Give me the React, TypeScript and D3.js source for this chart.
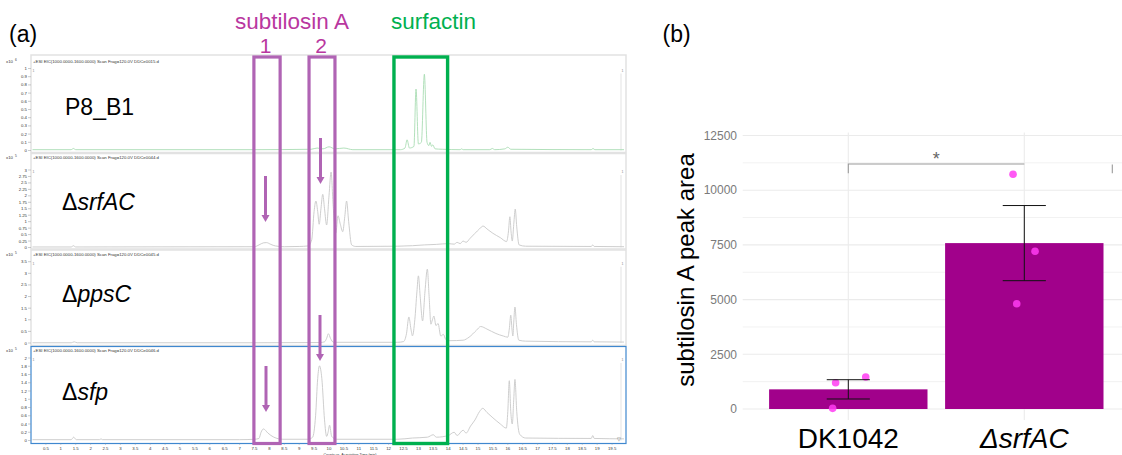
import React from "react";
import * as d3 from "d3";

const W = 1122;
const H = 455;
const FONT = "'Liberation Sans', Arial, Helvetica, sans-serif";

// ---------- panel (a): LC-MS chromatograms ----------
const sampleLabels = ["P8_B1", "srfAC", "ppsC", "sfp"];
const fileNames = ["DDCe0015.d", "DDCe0044.d", "DDCe0045.d", "DDCe0046.d"];
const exponents = ["6", "5", "5", "5"];
const yTicks1 = [0, 0.1, 0.2, 0.3, 0.4, 0.5, 0.6, 0.7, 0.8, 0.9, 1];
const yTicks2 = [0, 0.25, 0.5, 0.75, 1, 1.25, 1.5, 1.75, 2, 2.25, 2.5, 2.75, 3];
const yTicks3 = [0, 0.5, 1, 1.5, 2, 2.5, 3, 3.5];
const yTicks4 = [0, 0.2, 0.4, 0.6, 0.8, 1, 1.2, 1.4, 1.6, 1.8, 2];
const timeTicks = [
  0.5, 1, 1.5, 2, 2.5, 3, 3.5, 4, 4.5, 5, 5.5, 6, 6.5, 7, 7.5, 8, 8.5, 9, 9.5, 10,
  10.5, 11, 11.5, 12, 12.5, 13, 13.5, 14, 14.5, 15, 15.5, 16, 16.5, 17, 17.5, 18,
  18.5, 19, 19.5,
];

// [time (min), counts]
const traceP8: [number, number][] = [
  [0.05, 0.01], [1.35, 0.01], [1.42, 0.025], [1.5, 0.01], [7.5, 0.01], [9.4, 0.015],
  [9.6, 0.03], [9.8, 0.02], [10.0, 0.045], [10.2, 0.02], [10.5, 0.03], [10.8, 0.01],
  [12.4, 0.01], [12.55, 0.03], [12.62, 0.13], [12.7, 0.03], [12.85, 0.05], [12.92, 0.75],
  [13.0, 0.08], [13.1, 0.1], [13.2, 0.93], [13.29, 0.1], [13.35, 0.06], [13.39, 0.1],
  [13.44, 0.05], [13.48, 0.07], [13.56, 0.02], [13.8, 0.015], [14.4, 0.01], [14.45, 0.02],
  [14.5, 0.01], [15.4, 0.01], [15.48, 0.025], [15.56, 0.01], [15.9, 0.02], [16.0, 0.04],
  [16.1, 0.015], [18.8, 0.01], [18.86, 0.025], [18.92, 0.01], [19.9, 0.01],
];
const traceSrfAC: [number, number][] = [
  [0.05, 0.02], [1.35, 0.02], [1.42, 0.07], [1.5, 0.02], [7.5, 0.03], [7.65, 0.1],
  [7.8, 0.18], [7.9, 0.19], [8.05, 0.12], [8.2, 0.06], [8.5, 0.03], [9.0, 0.04],
  [9.3, 0.06], [9.42, 0.3], [9.5, 1.4], [9.56, 1.8], [9.62, 1.4], [9.67, 0.9],
  [9.73, 1.5], [9.79, 2.06], [9.85, 1.5], [9.92, 0.87], [10.0, 2.0], [10.07, 2.92],
  [10.14, 1.6], [10.23, 0.56], [10.3, 1.23], [10.38, 0.9], [10.46, 0.61], [10.53, 1.2],
  [10.59, 1.8], [10.66, 1.0], [10.76, 0.1], [10.9, 0.04], [12.3, 0.05], [12.8, 0.07],
  [13.2, 0.1], [13.6, 0.12], [14.0, 0.15], [14.2, 0.13], [14.3, 0.2], [14.4, 0.15],
  [14.5, 0.25], [14.6, 0.2], [14.73, 0.35], [14.9, 0.55], [15.05, 0.72], [15.17, 0.83],
  [15.3, 0.72], [15.5, 0.55], [15.75, 0.38], [15.96, 0.23], [16.02, 0.6], [16.07, 1.19],
  [16.11, 0.6], [16.15, 0.25], [16.2, 0.9], [16.25, 1.49], [16.3, 0.8], [16.38, 0.1],
  [16.6, 0.05], [18.8, 0.04], [18.85, 0.1], [18.9, 0.04], [19.9, 0.03],
];
const tracePpsC: [number, number][] = [
  [0.05, 0.01], [1.35, 0.01], [1.45, 0.05], [1.55, 0.01], [7.5, 0.01], [9.7, 0.02],
  [9.85, 0.05], [9.92, 0.2], [9.98, 0.4], [10.05, 0.2], [10.15, 0.03], [12.3, 0.03],
  [12.5, 0.06], [12.6, 0.4], [12.68, 1.12], [12.75, 0.6], [12.8, 0.31], [12.88, 1.0],
  [12.95, 2.2], [13.0, 2.89], [13.06, 2.0], [13.14, 0.95], [13.22, 2.2], [13.3, 3.18],
  [13.36, 2.0], [13.42, 0.81], [13.47, 1.0], [13.52, 1.16], [13.59, 0.75], [13.66, 0.84],
  [13.75, 0.3], [13.84, 0.37], [13.92, 0.15], [14.05, 0.1], [14.5, 0.12], [14.7, 0.25],
  [14.95, 0.55], [15.09, 0.71], [15.3, 0.6], [15.6, 0.41], [15.85, 0.3], [16.0, 0.25],
  [16.05, 0.6], [16.1, 1.2], [16.14, 0.6], [16.17, 0.3], [16.2, 0.9], [16.24, 1.55],
  [16.29, 0.8], [16.37, 0.12], [16.6, 0.08], [18.8, 0.05], [18.85, 0.12], [18.9, 0.05],
  [19.9, 0.04],
];
const traceSfp: [number, number][] = [
  [0.05, 0.02], [1.35, 0.02], [1.43, 0.08], [1.52, 0.02], [2.3, 0.02], [2.35, 0.04],
  [2.4, 0.02], [7.0, 0.02], [7.5, 0.03], [7.65, 0.05], [7.72, 0.2], [7.8, 0.28],
  [7.95, 0.18], [8.15, 0.08], [8.45, 0.03], [9.3, 0.03], [9.45, 0.08], [9.55, 0.6],
  [9.62, 1.5], [9.68, 1.81], [9.76, 1.5], [9.85, 0.5], [9.92, 0.1], [9.97, 0.2],
  [10.02, 0.37], [10.09, 0.1], [10.25, 0.03], [12.3, 0.03], [12.8, 0.06], [13.3, 0.08],
  [13.5, 0.14], [13.6, 0.08], [14.0, 0.12], [14.2, 0.2], [14.3, 0.12], [14.5, 0.25],
  [14.6, 0.18], [14.75, 0.35], [14.9, 0.5], [15.05, 0.7], [15.16, 0.78], [15.3, 0.68],
  [15.5, 0.55], [15.75, 0.4], [15.95, 0.3], [16.0, 0.7], [16.05, 1.45], [16.1, 0.7],
  [16.15, 0.4], [16.2, 1.0], [16.24, 1.48], [16.3, 0.7], [16.4, 0.15], [16.6, 0.06],
  [18.8, 0.05], [18.85, 0.12], [18.9, 0.05], [19.9, 0.04],
];

// highlighted retention windows (min)
const sub1Window = [7.48, 8.36];
const sub2Window = [9.33, 10.2];
const surfactinWindow = [12.18, 13.98];

// ---------- panel (b): bar chart ----------
const strains = ["DK1042", "ΔsrfAC"];
const peakAreaDK = [1202, 1462, 30];
const peakAreaSrf = [7207, 4813, 10726];
const jitterDK = [-0.072, 0.099, -0.089];
const jitterSrf = [0.061, -0.043, -0.064];
const yTicksB = [0, 2500, 5000, 7500, 10000, 12500];
const yMinorB = [1250, 3750, 6250, 8750, 11250];

// panel layout (px)
const panels = [
  { top: 55, bottom: 152.5, y0: 150.5, yTop: 68.5, head: 62.5, ticks: yTicks1, trace: traceP8, color: "#a9dcb3", border: "#e2e2e2", labY: 115 },
  { top: 153.5, bottom: 249, y0: 247.5, yTop: 170, head: 158.5, ticks: yTicks2, trace: traceSrfAC, color: "#c8c8c8", border: "#e2e2e2", labY: 210 },
  { top: 250, bottom: 345.5, y0: 343, yTop: 261.7, head: 256, ticks: yTicks3, trace: tracePpsC, color: "#c8c8c8", border: "#e2e2e2", labY: 302 },
  { top: 346.5, bottom: 443.5, y0: 440.5, yTop: 358, head: 352, ticks: yTicks4, trace: traceSfp, color: "#c8c8c8", border: "#3f88cf", labY: 400 },
];

const PURPLE = "#b064b4";
const PURPLE_TXT = "#b9379f";
const GREEN = "#00b04f";

function Arrow({ x, y1, y2 }: { x: number; y1: number; y2: number }) {
  return (
    <g>
      <line x1={x} x2={x} y1={y1} y2={y2 - 6} stroke={PURPLE} strokeWidth={3} />
      <path d={`M${x - 4},${y2 - 7} L${x + 4},${y2 - 7} L${x},${y2} Z`} fill={PURPLE} />
    </g>
  );
}

function ChromPanel() {
  const xT = d3.scaleLinear().domain([0, 20]).range([31, 627]);
  const boxTop = 57;
  const boxBottom = 443.5;
  return (
    <g fontFamily={FONT}>
      <text x={9} y={41.5} fontSize={23}>(a)</text>
      {panels.map((p, i) => {
        const topTick = p.ticks[p.ticks.length - 1];
        const y = d3.scaleLinear().domain([0, topTick]).range([p.y0, p.yTop]);
        const line = d3
          .line<[number, number]>()
          .x((d) => xT(d[0]))
          .y((d) => y(d[1]))
          .curve(d3.curveMonotoneX);
        return (
          <g key={i}>
            <rect x={31} y={p.top} width={595} height={p.bottom - p.top} fill="none" stroke={p.border} strokeWidth={i === 3 ? 1.2 : 1.5} />
            <text x={6} y={p.head} fontSize={4.3} fill="#333">x10</text>
            <text x={15} y={p.head - 1.8} fontSize={3.2} fill="#333">{exponents[i]}</text>
            <text x={33} y={p.head} fontSize={4.3} fill="#333">
              {`+ESI EIC(1000.0000-1600.0000) Scan Frag=120.0V ${fileNames[i]}`}
            </text>
            <text x={32.5} y={p.yTop + 3} fontSize={3.5} fill="#888">1</text>
            <text x={621.5} y={p.yTop + 3} fontSize={3.5} fill="#888">1</text>
            <line x1={621} x2={621} y1={p.yTop + 5} y2={p.y0} stroke="#dcdcdc" strokeWidth={0.8} />
            {p.ticks.map((t) => (
              <g key={t}>
                <line x1={28} x2={31} y1={y(t)} y2={y(t)} stroke="#999" strokeWidth={0.5} />
                <text x={27} y={y(t) + 1.5} fontSize={4.3} textAnchor="end" fill="#333">{String(t)}</text>
              </g>
            ))}
            <path d={line(p.trace) || ""} fill="none" stroke={p.color} strokeWidth={0.9} />
            {i === 0 ? (
              <text x={65} y={p.labY} fontSize={23}>{sampleLabels[i]}</text>
            ) : (
              <text x={62} y={p.labY} fontSize={23}>
                <tspan>Δ</tspan>
                <tspan fontStyle="italic">{sampleLabels[i]}</tspan>
              </text>
            )}
          </g>
        );
      })}
      <text x={616.5} y={441} fontSize={4.5} fill="#555">▽</text>
      {timeTicks.map((t) => (
        <g key={t}>
          <line x1={xT(t)} x2={xT(t)} y1={443.5} y2={445} stroke="#999" strokeWidth={0.4} />
          <text x={xT(t)} y={450} fontSize={4.3} textAnchor="middle" fill="#333">{String(t)}</text>
        </g>
      ))}
      <text x={350} y={455.5} fontSize={3.6} textAnchor="middle" fill="#333">Counts vs. Acquisition Time (min)</text>

      {/* highlight windows */}
      <rect x={xT(sub1Window[0])} y={boxTop} width={xT(sub1Window[1]) - xT(sub1Window[0])} height={boxBottom - boxTop} fill="none" stroke={PURPLE} strokeWidth={3.2} />
      <rect x={xT(sub2Window[0])} y={boxTop} width={xT(sub2Window[1]) - xT(sub2Window[0])} height={boxBottom - boxTop} fill="none" stroke={PURPLE} strokeWidth={3.2} />
      <rect x={xT(surfactinWindow[0])} y={boxTop} width={xT(surfactinWindow[1]) - xT(surfactinWindow[0])} height={boxBottom - boxTop} fill="none" stroke={GREEN} strokeWidth={3.4} />

      <Arrow x={265.5} y1={176} y2={222} />
      <Arrow x={320.5} y1={138} y2={184} />
      <Arrow x={266} y1={366} y2={412} />
      <Arrow x={320} y1={315} y2={361} />

      <text x={292} y={28.5} fontSize={22.5} textAnchor="middle" fill={PURPLE_TXT}>subtilosin A</text>
      <text x={265.5} y={53} fontSize={21} textAnchor="middle" fill={PURPLE_TXT}>1</text>
      <text x={321} y={53} fontSize={21} textAnchor="middle" fill={PURPLE_TXT}>2</text>
      <text x={391} y={28.5} fontSize={22.5} fill={GREEN}>surfactin</text>
    </g>
  );
}

function BarPanel() {
  const x = d3.scaleLinear().domain([0.4, 2.6]).range([742.7, 1129.9]);
  const y = d3.scaleLinear().domain([0, 12500]).range([409, 135.5]);
  const groups = [
    { vals: peakAreaDK, jit: jitterDK },
    { vals: peakAreaSrf, jit: jitterSrf },
  ];
  const stats = groups.map((g) => {
    const m = d3.mean(g.vals) as number;
    const se = (d3.deviation(g.vals) as number) / Math.sqrt(g.vals.length);
    return { m, se };
  });
  const panelTop = 132.5;
  const panelBottom = 420;
  const barW = 0.9;
  const capW = 0.245;
  return (
    <g fontFamily={FONT}>
      <text x={662.5} y={41.5} fontSize={23}>(b)</text>
      {yMinorB.map((t) => (
        <line key={"m" + t} x1={x(0.4)} x2={W} y1={y(t)} y2={y(t)} stroke="#f2f2f2" strokeWidth={1} />
      ))}
      {yTicksB.map((t) => (
        <line key={t} x1={x(0.4)} x2={W} y1={y(t)} y2={y(t)} stroke="#ebebeb" strokeWidth={1.1} />
      ))}
      {strains.map((s, i) => (
        <line key={s} x1={x(i + 1)} x2={x(i + 1)} y1={panelTop} y2={panelBottom} stroke="#ebebeb" strokeWidth={1.1} />
      ))}
      {yTicksB.map((t) => (
        <text key={"l" + t} x={737} y={y(t) + 4.2} fontSize={12} textAnchor="end" fill="#7a7a7a">{t}</text>
      ))}
      {stats.map((st, i) => (
        <rect key={i} x={x(i + 1 - barW / 2)} y={y(st.m)} width={x(i + 1 + barW / 2) - x(i + 1 - barW / 2)} height={y(0) - y(st.m)} fill="#a1018b" />
      ))}
      {groups.map((g, i) =>
        g.vals.map((v, j) => (
          <circle key={i + "-" + j} cx={x(i + 1 + g.jit[j])} cy={y(v)} r={3.8} fill="#ff3cf2" fillOpacity={0.85} />
        ))
      )}
      {stats.map((st, i) => (
        <g key={"e" + i} stroke="#111" strokeWidth={1}>
          <line x1={x(i + 1)} x2={x(i + 1)} y1={y(st.m + st.se)} y2={y(st.m - st.se)} />
          <line x1={x(i + 1 - capW / 2)} x2={x(i + 1 + capW / 2)} y1={y(st.m + st.se)} y2={y(st.m + st.se)} />
          <line x1={x(i + 1 - capW / 2)} x2={x(i + 1 + capW / 2)} y1={y(st.m - st.se)} y2={y(st.m - st.se)} />
        </g>
      ))}
      {/* significance bracket */}
      <g stroke="#9a9a9a" strokeWidth={1.1} fill="none">
        <path d={`M${x(1)},${y(10780)} L${x(1)},${y(11200)} L${x(2)},${y(11200)}`} />
        <line x1={x(2.5)} x2={x(2.5)} y1={y(11180)} y2={y(10780)} />
      </g>
      <text x={(x(1) + x(2)) / 2} y={165} fontSize={18} textAnchor="middle" fill="#666">*</text>
      <text transform="translate(694,270) rotate(-90)" fontSize={24} textAnchor="middle">subtilosin A peak area</text>
      <text x={x(1)} y={448} fontSize={28} textAnchor="middle">{strains[0]}</text>
      <text x={x(2)} y={448} fontSize={28} textAnchor="middle" fontStyle="italic">{strains[1]}</text>
    </g>
  );
}

export default function App() {
  return (
    <svg width={W} height={H} viewBox={`0 0 ${W} ${H}`} style={{ position: "absolute", left: 0, top: 0, background: "#fff" }}>
      <rect width={W} height={H} fill="#fff" />
      <ChromPanel />
      <BarPanel />
    </svg>
  );
}
